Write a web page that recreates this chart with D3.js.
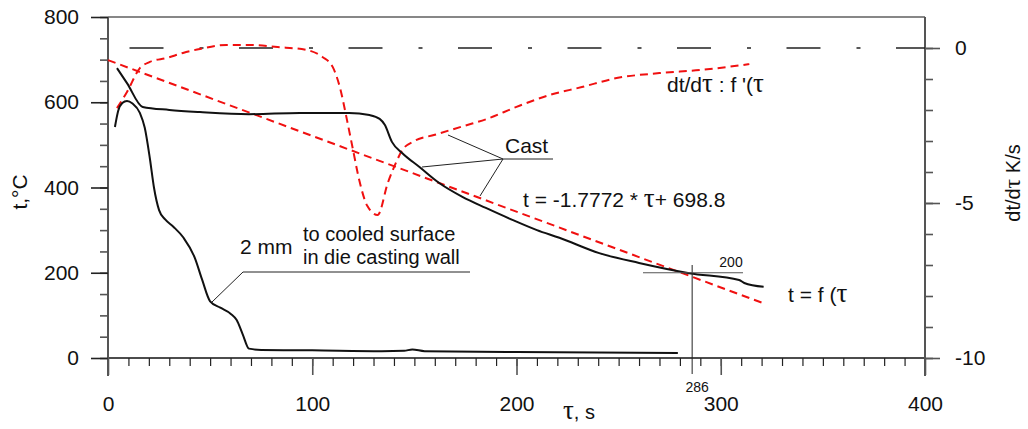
<!DOCTYPE html>
<html>
<head>
<meta charset="utf-8">
<title>Cast cooling curve</title>
<script src="https://cdn.jsdelivr.net/npm/d3@7"></script>
<style>
  body { margin: 0; background: #fff; }
  svg text { font-family: "Liberation Sans", Arial, sans-serif; fill: #111; }
  .tau { font-family: "Liberation Serif", "DejaVu Serif", serif; }
</style>
</head>
<body>
<div id="chart"></div>
<script>
// cast temperature t = f(tau)
var castTau  = [4.4, 9.3, 17, 30, 45, 69, 94, 118, 128, 133, 135.5, 139, 144, 152.5, 162, 173.5, 185, 198, 210, 221, 240.5, 260, 284.6, 309, 311.5, 321];
var castTemp = [680, 645, 589, 582, 577, 572, 575, 575, 570, 561, 547, 507, 481, 448, 411, 378, 352, 324, 300, 282, 246, 223, 199, 183, 176, 167];

// 2 mm to cooled surface in die casting wall
var wallTau  = [3.4, 5, 7, 9.3, 12, 15.6, 18, 20.5, 22.5, 25, 28, 32, 37, 42.5, 46, 50, 55, 60, 63, 66, 69, 75, 100, 134, 145, 149, 155, 200, 279];
var wallTemp = [542, 580, 598, 603, 597, 575, 540, 468, 400, 347, 325, 308, 282, 235, 185, 133, 118, 104, 89, 55, 22, 19, 18, 16, 17, 20, 16, 14, 12];

// cooling rate dt/dtau (right axis)
var rateTau = [4.4, 9.3, 15.6, 20.5, 28.8, 36.7, 45, 58, 69, 83, 97, 105, 110, 113.5, 117, 120, 123, 127, 132, 137, 141, 144, 150, 160, 175, 185, 200, 216, 232, 249, 270, 290, 314];
var rateVal = [-1.94, -1.42, -0.65, -0.45, -0.32, -0.16, -0.03, 0.1, 0.1, 0.03, -0.06, -0.29, -0.61, -1.26, -2.32, -3.3, -4.26, -5.1, -5.39, -4.35, -3.7, -3.3, -3.0, -2.8, -2.5, -2.3, -1.9, -1.52, -1.26, -0.97, -0.81, -0.71, -0.52];

// linear fit t = -1.7772*tau + 698.8, endpoints
var fitTau  = [0, 320];
var fitTemp = [698.8, 130];

// zero rate reference
var zeroTau  = [0, 400];
var zeroRate = [0, 0];

var xTicks     = [0, 100, 200, 300, 400];
var yTicks     = [0, 200, 400, 600, 800];
var rateTicks  = [0, -5, -10];
var markTau = 286, markTemp = 200;

var W = 1028, H = 429;
var svg = d3.select("#chart").append("svg").attr("width", W).attr("height", H);

var x  = d3.scaleLinear().domain([0, 400]).range([108, 925]);
var yT = d3.scaleLinear().domain([0, 800]).range([358, 17]);
var yR = d3.scaleLinear().domain([-10, 1]).range([358, 17]);

var gray = "#555";
var plain = function(d) { return String(d); };

// frame lines
svg.append("line").attr("x1", x(0)).attr("x2", x(400)).attr("y1", 17).attr("y2", 17)
   .attr("stroke", "#111").attr("stroke-width", 1.2);
svg.append("line").attr("x1", x(0)).attr("x2", x(400)).attr("y1", 358).attr("y2", 358)
   .attr("stroke", "#111").attr("stroke-width", 1.5);
svg.append("line").attr("x1", x(0)).attr("x2", x(0)).attr("y1", 17).attr("y2", 376)
   .attr("stroke", gray).attr("stroke-width", 2);
svg.append("line").attr("x1", x(400)).attr("x2", x(400)).attr("y1", 17).attr("y2", 376)
   .attr("stroke", gray).attr("stroke-width", 2);

function styleAxis(g, col, w) {
  g.select(".domain").remove();
  g.selectAll(".tick line").attr("stroke", col).attr("stroke-width", w);
  g.selectAll(".tick text").attr("font-size", 21).attr("fill", "#111")
   .style("font-family", "'Liberation Sans', Arial, sans-serif");
}

// left axis
svg.append("g").attr("transform", "translate(" + x(0) + ",0)")
   .call(d3.axisLeft(yT).tickValues(d3.range(0, 801, 50)).tickSize(8).tickFormat(""))
   .call(styleAxis, gray, 1.6);
svg.append("g").attr("transform", "translate(" + x(0) + ",0)")
   .call(d3.axisLeft(yT).tickValues(yTicks).tickSize(17).tickPadding(12).tickFormat(plain))
   .call(styleAxis, "#222", 1.6);

// bottom axis
svg.append("g").attr("transform", "translate(0,358)")
   .call(d3.axisBottom(x).tickValues(d3.range(10, 400, 10)).tickSize(8).tickFormat(""))
   .call(styleAxis, "#222", 1.2);
svg.append("g").attr("transform", "translate(0,358)")
   .call(d3.axisBottom(x).tickValues(xTicks).tickSize(17).tickPadding(21).tickFormat(plain))
   .call(styleAxis, gray, 1.6);

// right axis
svg.append("g").attr("transform", "translate(" + x(400) + ",0)")
   .call(d3.axisRight(yR).tickValues(d3.range(-10, 1, 1)).tickSize(8).tickFormat(""))
   .call(styleAxis, gray, 1.6);
svg.append("g").attr("transform", "translate(" + x(400) + ",0)")
   .call(d3.axisRight(yR).tickValues(rateTicks).tickSize(15).tickPadding(15).tickFormat(plain))
   .call(styleAxis, gray, 1.6);

// axis titles
svg.append("text").attr("transform", "translate(27,192) rotate(-90)")
   .attr("text-anchor", "middle").attr("font-size", 21).text("t,°C");
var rt = svg.append("text").attr("transform", "translate(1020,183) rotate(-90)")
   .attr("text-anchor", "middle").attr("font-size", 20);
rt.append("tspan").text("dt/d");
rt.append("tspan").attr("class", "tau").attr("font-size", 24).text("τ");
rt.append("tspan").text(" K/s");

var xt = svg.append("text").attr("x", 563).attr("y", 419).attr("font-size", 20);
xt.append("tspan").attr("class", "tau").attr("font-size", 27).text("τ");
xt.append("tspan").text(", s");

// zero rate dash-dot line
svg.append("path")
   .attr("d", d3.line().x(function(d, i) { return x(d); }).y(function(d, i) { return yR(zeroRate[i]); })(zeroTau))
   .attr("fill", "none").attr("stroke", "#222").attr("stroke-width", 1.3)
   .attr("stroke-dasharray", "34,36,4,35.5").attr("stroke-dashoffset", 88);

function series(xs, ys, ysc) {
  return d3.line().curve(d3.curveMonotoneX)
    .x(function(d, i) { return x(xs[i]); })
    .y(function(d, i) { return ysc(ys[i]); })(xs);
}

// red dashed: derivative and fit
svg.append("path").attr("d", series(rateTau, rateVal, yR))
   .attr("fill", "none").attr("stroke", "#f01010").attr("stroke-width", 2)
   .attr("stroke-dasharray", "8,5");
svg.append("path").attr("d", series(fitTau, fitTemp, yT))
   .attr("fill", "none").attr("stroke", "#f01010").attr("stroke-width", 2)
   .attr("stroke-dasharray", "8,5");

// black curves
svg.append("path").attr("d", series(castTau, castTemp, yT))
   .attr("fill", "none").attr("stroke", "#111").attr("stroke-width", 2);
svg.append("path").attr("d", series(wallTau, wallTemp, yT))
   .attr("fill", "none").attr("stroke", "#111").attr("stroke-width", 2);

// marker lines for tau = 286, t = 200
svg.append("line").attr("x1", x(markTau)).attr("x2", x(markTau)).attr("y1", 265).attr("y2", 374)
   .attr("stroke", "#222").attr("stroke-width", 1);
svg.append("line").attr("x1", 643).attr("x2", 743).attr("y1", yT(markTemp)).attr("y2", yT(markTemp))
   .attr("stroke", "#555").attr("stroke-width", 1.2);
svg.append("text").attr("x", 731).attr("y", 267).attr("text-anchor", "middle").attr("font-size", 14).text(markTemp);
svg.append("text").attr("x", x(markTau) + 5).attr("y", 392).attr("text-anchor", "middle").attr("font-size", 14).text(markTau);

// leader lines
function lead(pts) {
  svg.append("path").attr("d", d3.line()(pts)).attr("fill", "none")
     .attr("stroke", "#222").attr("stroke-width", 1);
}
lead([[448, 135], [503, 159], [553, 159]]);
lead([[422, 167], [503, 159]]);
lead([[480, 196], [503, 159]]);
lead([[212, 302], [243, 272], [470, 272]]);

// labels
function label(xp, yp, parts, size) {
  var t = svg.append("text").attr("x", xp).attr("y", yp).attr("font-size", size || 21);
  parts.forEach(function(p) {
    var s = t.append("tspan").text(p[0]);
    if (p[1]) s.attr("class", "tau").attr("font-size", 27);
  });
}
label(505, 153, [["Cast"]]);
label(523, 207, [["t = -1.7772 * "], ["τ", 1], ["+ 698.8"]]);
label(667, 92, [["dt/d"], ["τ", 1], [" : f '("], ["τ", 1]]);
label(788, 302, [["t = f ("], ["τ", 1]]);
label(240, 254, [["2 mm"]]);
label(303, 241, [["to cooled surface"]], 20);
label(303, 264, [["in die casting wall"]], 20);
</script>
</body>
</html>
